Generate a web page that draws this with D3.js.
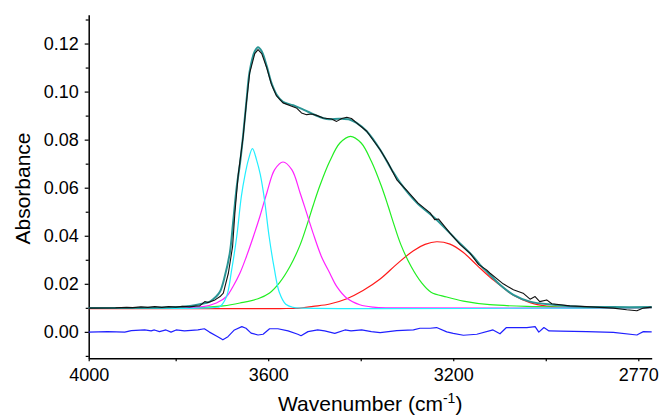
<!DOCTYPE html>
<html>
<head>
<meta charset="utf-8">
<script src="https://cdn.jsdelivr.net/npm/d3@7"></script>
<style>
  body { margin: 0; background: #fff; }
  text { font-family: Arial, "Liberation Sans", sans-serif; fill: #000; }
</style>
</head>
<body>
<div id="vis"></div>
<script>
// [wavenumber, absorbance] pairs

// measured spectrum (black)
const measured = [
  [3988, 0.0099], [3930, 0.0100], [3906, 0.0102], [3893, 0.0101], [3875, 0.0104],
  [3860, 0.0102], [3845, 0.0105], [3830, 0.0102], [3815, 0.0105], [3800, 0.0103],
  [3785, 0.0106], [3770, 0.0104], [3757, 0.0107], [3748, 0.0108], [3737, 0.0126],
  [3730, 0.0122], [3715, 0.0133], [3704, 0.0147], [3697, 0.0161], [3686, 0.0245],
  [3677, 0.0355], [3672, 0.0495], [3665, 0.0650], [3654, 0.0815], [3647, 0.0955],
  [3640, 0.1078], [3629, 0.1158], [3622, 0.1175], [3614, 0.1158], [3603, 0.1098],
  [3593, 0.1030], [3582, 0.0982], [3568, 0.0953], [3539, 0.0932], [3528, 0.0911],
  [3517, 0.0904], [3506, 0.0907], [3495, 0.0901], [3481, 0.0890], [3463, 0.0886],
  [3452, 0.0876], [3441, 0.0888], [3430, 0.0893], [3420, 0.0888], [3409, 0.0870],
  [3387, 0.0835], [3358, 0.0758], [3341, 0.0704], [3322, 0.0633], [3300, 0.0588],
  [3276, 0.0536], [3250, 0.0495], [3240, 0.0467], [3232, 0.0470], [3207, 0.0411],
  [3185, 0.0363], [3164, 0.0328], [3145, 0.0280], [3128, 0.0258], [3121, 0.0245],
  [3092, 0.0200], [3070, 0.0175], [3049, 0.0161], [3034, 0.0136], [3023, 0.0147],
  [3013, 0.0126], [2998, 0.0133], [2987, 0.0117], [2948, 0.0108], [2912, 0.0105],
  [2854, 0.0099], [2825, 0.0092], [2803, 0.0088], [2789, 0.0099], [2771, 0.0103]
];

// fitted sum (teal)
const fitted = [
  [3988, 0.0099], [3856, 0.0100], [3802, 0.0103], [3769, 0.0108], [3748, 0.0115],
  [3726, 0.0126], [3713, 0.0146], [3704, 0.0168], [3694, 0.0230], [3683, 0.0328],
  [3676, 0.0453], [3668, 0.0605], [3661, 0.0700], [3654, 0.0821], [3647, 0.0960],
  [3640, 0.1085], [3629, 0.1168], [3622, 0.1185], [3614, 0.1168], [3603, 0.1105],
  [3593, 0.1036], [3582, 0.0988], [3568, 0.0957], [3546, 0.0943], [3524, 0.0925],
  [3492, 0.0897], [3474, 0.0886], [3445, 0.0887], [3423, 0.0883], [3409, 0.0870],
  [3387, 0.0835], [3358, 0.0758], [3333, 0.0675], [3315, 0.0621], [3279, 0.0538],
  [3236, 0.0467], [3193, 0.0383], [3157, 0.0314], [3142, 0.0279], [3121, 0.0238],
  [3099, 0.0196], [3070, 0.0154], [3034, 0.0126], [2984, 0.0113], [2926, 0.0105],
  [2854, 0.0103], [2771, 0.0103]
];

// fitted components
const cyanBand = [
  [3988, 0.0099], [3748, 0.0099], [3715, 0.0102], [3704, 0.0106], [3690, 0.0147],
  [3679, 0.0258], [3668, 0.0397], [3658, 0.0564], [3650, 0.0654], [3643, 0.0715],
  [3634, 0.0763], [3625, 0.0715], [3617, 0.0654], [3608, 0.0550], [3598, 0.0397],
  [3587, 0.0265], [3576, 0.0165], [3562, 0.0115], [3546, 0.0102], [3524, 0.0099],
  [2771, 0.0101]
];

const magentaBand = [
  [3988, 0.0099], [3791, 0.0100], [3741, 0.0105], [3712, 0.0120], [3690, 0.0147],
  [3676, 0.0189], [3661, 0.0245], [3647, 0.0314], [3632, 0.0397], [3618, 0.0480],
  [3603, 0.0578], [3586, 0.0675], [3568, 0.0707], [3549, 0.0675], [3531, 0.0578],
  [3517, 0.0495], [3503, 0.0411], [3485, 0.0314], [3467, 0.0245], [3452, 0.0189],
  [3430, 0.0140], [3402, 0.0113], [3373, 0.0103], [3337, 0.0100], [2771, 0.0101]
];

const greenBand = [
  [3988, 0.0099], [3834, 0.0099], [3755, 0.0100], [3697, 0.0108], [3661, 0.0120],
  [3622, 0.0138], [3597, 0.0162], [3575, 0.0206], [3553, 0.0272], [3531, 0.0362],
  [3514, 0.0458], [3503, 0.0525], [3488, 0.0610], [3467, 0.0710], [3445, 0.0786],
  [3422, 0.0814], [3399, 0.0786], [3377, 0.0710], [3356, 0.0610], [3341, 0.0525],
  [3330, 0.0458], [3313, 0.0362], [3291, 0.0272], [3269, 0.0206], [3248, 0.0165],
  [3214, 0.0145], [3178, 0.0128], [3121, 0.0113], [3020, 0.0105], [2912, 0.0101],
  [2771, 0.0101]
];

const redBand = [
  [3988, 0.0097], [3575, 0.0097], [3531, 0.0099], [3503, 0.0106], [3467, 0.0116],
  [3430, 0.0138], [3395, 0.0172], [3358, 0.0220], [3322, 0.0282], [3286, 0.0338],
  [3261, 0.0364], [3236, 0.0375], [3207, 0.0365], [3178, 0.0330], [3149, 0.0278],
  [3121, 0.0228], [3092, 0.0184], [3070, 0.0152], [3034, 0.0122], [2998, 0.0107],
  [2962, 0.0101], [2771, 0.0101]
];

// residual (blue)
const residual = [
  [3988, -0.0001], [3947, 0.0001], [3910, -0.0001], [3896, 0.0005], [3867, 0.0008],
  [3853, 0.0004], [3846, 0.0008], [3835, 0.0001], [3821, 0.0008], [3810, -0.0001],
  [3799, 0.0008], [3781, 0.0004], [3752, 0.0008], [3738, 0.0013], [3727, -0.0001],
  [3709, -0.0020], [3698, -0.0033], [3687, -0.0020], [3673, 0.0008], [3657, 0.0022],
  [3648, 0.0015], [3637, -0.0005], [3622, -0.0013], [3611, -0.0010], [3597, 0.0013],
  [3579, 0.0013], [3557, 0.0004], [3536, -0.0010], [3529, -0.0016], [3514, 0.0001],
  [3493, 0.0008], [3478, 0.0004], [3456, -0.0006], [3434, 0.0008], [3421, 0.0004],
  [3398, 0.0008], [3377, 0.0001], [3358, -0.0003], [3322, 0.0005], [3286, 0.0008],
  [3272, 0.0015], [3250, 0.0015], [3236, 0.0018], [3214, 0.0000], [3200, -0.0006],
  [3178, -0.0014], [3149, -0.0010], [3114, 0.0008], [3099, -0.0008], [3085, 0.0018],
  [3041, 0.0018], [3023, 0.0022], [3015, -0.0001], [3004, 0.0018], [2993, 0.0004],
  [2969, 0.0003], [2911, 0.0001], [2854, -0.0002], [2803, -0.0013], [2796, -0.0006],
  [2789, 0.0001], [2771, 0.0000]
];

const xTickValues = [3988, 3600, 3200, 2800];
const xTickLabels = ['4000', '3600', '3200', '2770'];
const xMinorTicks = [3800, 3400, 3000];
const yTickValues = [0, 0.02, 0.04, 0.06, 0.08, 0.10, 0.12];
const yMinorTicks = [-0.01, 0.01, 0.03, 0.05, 0.07, 0.09, 0.11, 0.13];

let margin = { top: 14.7, left: 88.7, right: 9.3, bottom: 57.7 },
  width = 661 - margin.left - margin.right,
  height = 416 - margin.top - margin.bottom;

let svg = d3.select('#vis')
  .append('svg')
  .attr('width', 661)
  .attr('height', 416);

let g = svg.append('g')
  .attr('transform', `translate(${margin.left},${margin.top})`);

let x = d3.scaleLinear().domain([3988, 2771]).range([0, width]);
let y = d3.scaleLinear().domain([-0.011, 0.132]).range([height, 0]);

// axes
g.append('g')
  .attr('transform', `translate(0,${height})`)
  .call(d3.axisBottom(x).tickValues(xTickValues).tickSize(3).tickSizeOuter(0).tickPadding(7)
    .tickFormat((d, i) => xTickLabels[i]));
g.append('g')
  .attr('transform', `translate(0,${height})`)
  .call(d3.axisBottom(x).tickValues(xMinorTicks).tickSize(3).tickFormat(''))
  .select('.domain').remove();

g.append('g')
  .call(d3.axisLeft(y).tickValues(yTickValues).tickSize(4).tickSizeOuter(0).tickPadding(6)
    .tickFormat(d3.format('.2f')));
g.append('g')
  .call(d3.axisLeft(y).tickValues(yMinorTicks).tickSize(3).tickFormat(''))
  .select('.domain').remove();

g.selectAll('.domain').attr('stroke-width', 1.5);
g.selectAll('.tick line').attr('stroke-width', 1.2);
g.selectAll('.tick text').style('font-size', '18px');

// titles
svg.append('text')
  .attr('transform', `translate(30,${margin.top + height / 2 + 2}) rotate(-90)`)
  .attr('text-anchor', 'middle')
  .style('font-size', '21px')
  .text('Absorbance');

let xt = svg.append('text')
  .attr('x', margin.left + width / 2)
  .attr('y', 410.5)
  .attr('text-anchor', 'middle')
  .style('font-size', '21px');
xt.append('tspan').text('Wavenumber (cm');
xt.append('tspan').attr('dy', -8).style('font-size', '14px').text('-1');
xt.append('tspan').attr('dy', 8).text(')');

// curves
let smooth = d3.line().x(d => x(d[0])).y(d => y(d[1])).curve(d3.curveCatmullRom.alpha(0.5));
let rough = d3.line().x(d => x(d[0])).y(d => y(d[1]));

let series = [
  { data: residual, color: '#2020ff', w: 1.2, line: rough },
  { data: redBand, color: '#ff1a1a', w: 1.2, line: smooth },
  { data: greenBand, color: '#22ee22', w: 1.2, line: smooth },
  { data: magentaBand, color: '#ff22ff', w: 1.2, line: smooth },
  { data: cyanBand, color: '#22eeff', w: 1.2, line: smooth },
  { data: fitted, color: '#2a9595', w: 2, line: smooth },
  { data: measured, color: '#111', w: 1.1, line: rough }
];

series.forEach(s => {
  g.append('path')
    .attr('d', s.line(s.data))
    .attr('fill', 'none')
    .attr('stroke', s.color)
    .attr('stroke-width', s.w)
    .attr('stroke-linejoin', 'round');
});
</script>
</body>
</html>
